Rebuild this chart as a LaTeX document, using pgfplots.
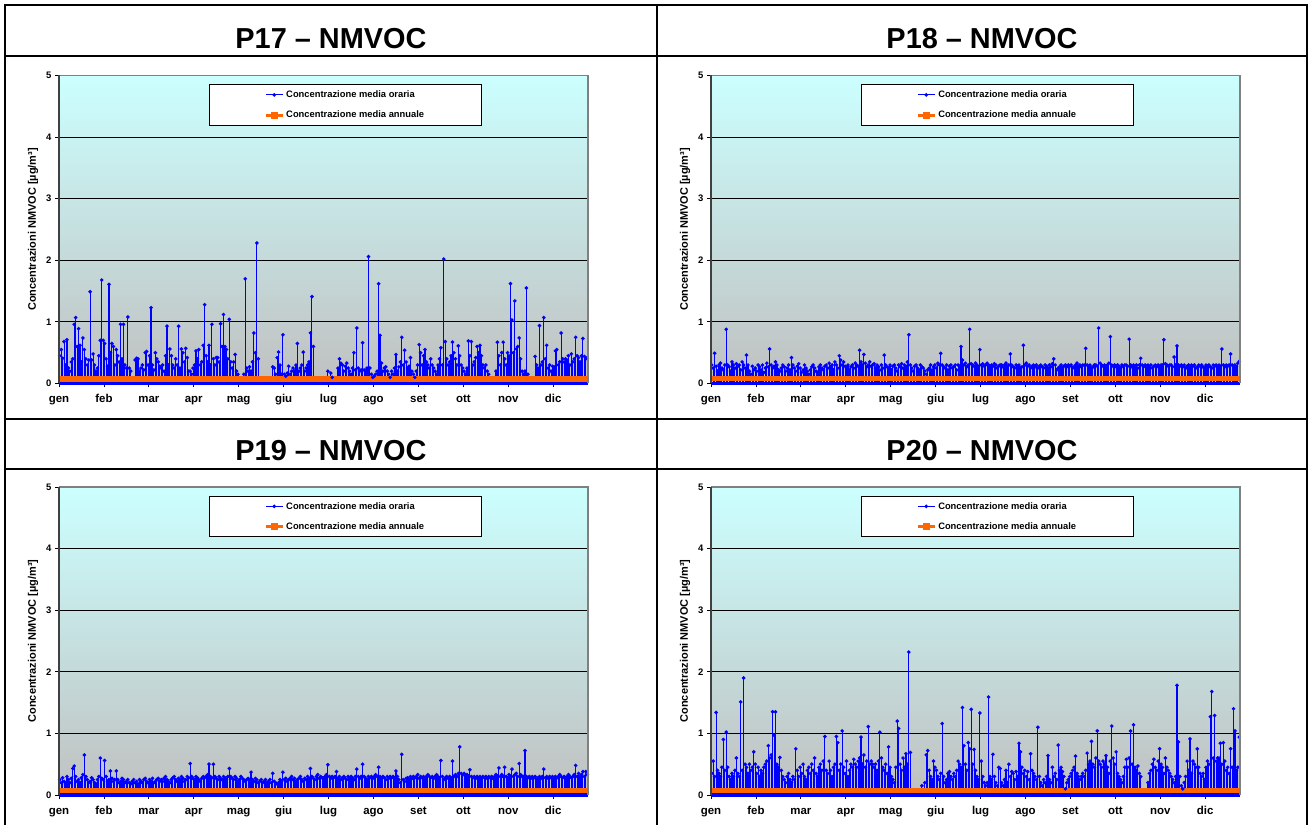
\documentclass[border=0pt]{standalone}
\usepackage{fontspec}
\setmainfont{Liberation Sans}
\usepackage{pgfplots}
\usepackage{pgfplotstable}
\pgfplotsset{compat=1.18}

\definecolor{serieblu}{RGB}{0,0,255}
\definecolor{arancio}{RGB}{255,102,0}
\definecolor{ciano}{RGB}{204,255,255}
\definecolor{grigio}{RGB}{192,192,192}
\definecolor{cornice}{RGB}{128,128,128}

% valori massimi giornalieri (giorni 0..364), nan = dato mancante
\pgfplotstableread[row sep=\\]{y\\
0.45\\0.55\\0.41\\0.68\\0.3\\0.71\\0.25\\0.2\\0.35\\0.4\\
0.96\\1.07\\0.6\\0.89\\0.62\\0.35\\0.74\\0.55\\0.4\\0.3\\
0.38\\1.49\\0.38\\0.48\\0.3\\0.2\\0.25\\0.45\\0.7\\1.68\\
0.7\\0.65\\0.4\\0.28\\1.61\\0.5\\0.65\\0.6\\0.3\\0.55\\
0.45\\0.35\\0.96\\0.4\\0.96\\0.3\\0.25\\1.08\\0.25\\0.2\\
nan\\nan\\0.38\\0.41\\0.4\\0.2\\0.25\\0.3\\0.22\\0.5\\
0.52\\0.3\\0.45\\1.23\\0.3\\0.22\\0.5\\0.4\\0.35\\0.28\\
0.25\\0.3\\0.2\\0.45\\0.93\\0.3\\0.56\\0.45\\0.3\\0.25\\
0.4\\0.3\\0.93\\0.25\\0.56\\0.5\\0.35\\0.57\\0.42\\0.2\\
0.2\\0.15\\0.25\\0.3\\0.53\\0.4\\0.55\\0.3\\0.35\\0.62\\
1.28\\0.45\\0.35\\0.62\\0.3\\0.96\\0.4\\0.3\\0.42\\0.42\\
0.35\\0.97\\0.6\\1.12\\0.6\\0.55\\0.4\\1.04\\0.35\\0.25\\
0.35\\0.47\\0.2\\0.15\\nan\\nan\\nan\\0.15\\1.70\\0.25\\
0.2\\0.27\\0.2\\0.35\\0.82\\0.5\\2.28\\0.4\\nan\\nan\\
nan\\nan\\nan\\nan\\nan\\nan\\nan\\0.27\\0.25\\0.15\\
0.42\\0.51\\0.3\\0.15\\0.79\\0.15\\0.12\\0.17\\0.28\\0.15\\
0.2\\0.25\\0.2\\0.3\\0.65\\0.2\\0.25\\0.3\\0.51\\0.2\\
0.25\\0.3\\0.35\\0.82\\1.41\\0.6\\nan\\nan\\nan\\nan\\
nan\\nan\\nan\\nan\\nan\\0.2\\nan\\0.17\\0.1\\nan\\
nan\\nan\\0.25\\0.4\\0.33\\0.3\\0.2\\0.28\\0.33\\0.25\\
0.2\\0.15\\0.25\\0.5\\0.22\\0.9\\0.25\\0.2\\0.22\\0.66\\
0.22\\0.2\\0.25\\2.06\\0.25\\0.15\\0.1\\0.12\\0.15\\0.2\\
1.62\\0.78\\0.33\\0.2\\0.25\\0.27\\0.2\\0.15\\0.1\\0.2\\
0.15\\0.25\\0.47\\0.2\\0.27\\0.35\\0.75\\0.3\\0.54\\0.35\\
0.25\\0.28\\0.42\\0.2\\0.15\\0.1\\0.2\\0.3\\0.63\\0.5\\
0.3\\0.45\\0.55\\0.35\\0.3\\0.25\\0.4\\0.3\\0.25\\0.2\\
0.15\\0.3\\0.4\\0.58\\0.3\\2.02\\0.68\\0.4\\0.3\\0.35\\
0.45\\0.67\\0.5\\0.4\\0.3\\0.61\\0.45\\0.3\\0.25\\0.2\\
0.15\\0.25\\0.69\\0.45\\0.68\\0.3\\0.35\\0.42\\0.6\\0.5\\
0.62\\0.45\\0.3\\0.25\\0.3\\0.2\\0.15\\nan\\nan\\nan\\
nan\\0.2\\0.67\\0.45\\0.3\\0.5\\0.67\\0.4\\0.3\\0.5\\
0.45\\1.62\\1.03\\0.5\\1.34\\0.56\\0.6\\0.74\\0.4\\0.2\\
0.15\\0.2\\1.55\\0.15\\nan\\nan\\nan\\nan\\0.44\\0.3\\
0.25\\0.94\\0.3\\0.35\\1.07\\0.4\\0.62\\0.25\\0.3\\0.2\\
0.28\\0.27\\0.53\\0.55\\0.3\\0.35\\0.82\\0.4\\0.35\\0.4\\
0.38\\0.45\\0.3\\0.48\\0.35\\0.4\\0.75\\0.45\\0.42\\0.35\\
0.45\\0.73\\0.44\\0.42\\0.4\\
}\datiPdiciassette

\pgfplotstableread[row sep=\\]{y\\
0.3\\0.25\\0.49\\0.28\\0.2\\0.3\\0.33\\0.25\\0.22\\0.3\\
0.88\\0.3\\0.27\\0.2\\0.35\\0.3\\0.25\\0.32\\0.28\\0.3\\
0.22\\0.35\\0.3\\0.25\\0.46\\0.3\\0.2\\0.15\\0.28\\0.22\\
0.25\\0.2\\0.3\\0.27\\0.22\\0.3\\0.18\\0.25\\0.33\\0.27\\
0.56\\0.3\\0.25\\0.28\\0.35\\0.3\\0.22\\0.2\\0.25\\0.3\\
0.27\\0.2\\0.25\\0.3\\0.22\\0.42\\0.3\\0.25\\0.2\\0.28\\
0.32\\0.25\\0.18\\0.22\\0.3\\0.25\\0.2\\0.15\\0.22\\0.27\\
0.3\\0.25\\0.2\\0.18\\0.27\\0.3\\0.25\\0.22\\0.28\\0.3\\
0.25\\0.33\\0.27\\0.3\\0.22\\0.35\\0.3\\0.25\\0.45\\0.38\\
0.3\\0.35\\0.28\\0.25\\0.3\\0.22\\0.27\\0.3\\0.25\\0.33\\
0.3\\0.28\\0.54\\0.35\\0.3\\0.47\\0.33\\0.27\\0.3\\0.35\\
0.28\\0.3\\0.32\\0.25\\0.3\\0.27\\0.22\\0.3\\0.25\\0.46\\
0.3\\0.27\\0.25\\0.3\\0.22\\0.28\\0.3\\0.25\\0.2\\0.3\\
0.27\\0.32\\0.25\\0.3\\0.28\\0.35\\0.79\\0.3\\0.25\\0.2\\
0.28\\0.3\\0.25\\0.22\\0.3\\0.27\\0.25\\0.2\\0.15\\0.22\\
0.25\\0.3\\0.22\\0.27\\0.3\\0.25\\0.33\\0.3\\0.49\\0.3\\
0.27\\0.25\\0.3\\0.22\\0.28\\0.3\\0.25\\0.27\\0.3\\0.22\\
0.3\\0.28\\0.6\\0.38\\0.3\\0.33\\0.27\\0.3\\0.88\\0.32\\
0.3\\0.28\\0.33\\0.3\\0.27\\0.55\\0.3\\0.32\\0.28\\0.3\\
0.33\\0.3\\0.27\\0.3\\0.28\\0.32\\0.3\\0.25\\0.28\\0.3\\
0.3\\0.27\\0.3\\0.33\\0.28\\0.3\\0.48\\0.3\\0.27\\0.25\\
0.3\\0.28\\0.3\\0.25\\0.27\\0.62\\0.3\\0.33\\0.28\\0.3\\
0.25\\0.28\\0.3\\0.27\\0.3\\0.25\\0.28\\0.3\\0.27\\0.25\\
0.3\\0.28\\0.25\\0.3\\0.27\\0.32\\0.4\\0.3\\0.22\\0.25\\
0.27\\0.3\\0.25\\0.28\\0.3\\0.27\\0.3\\0.28\\0.3\\0.25\\
0.27\\0.3\\0.33\\0.28\\0.3\\0.27\\0.3\\0.3\\0.57\\0.3\\
0.28\\0.3\\0.25\\0.27\\0.3\\0.3\\0.28\\0.9\\0.33\\0.3\\
0.28\\0.3\\0.27\\0.3\\0.33\\0.76\\0.3\\0.28\\0.3\\0.27\\
0.3\\0.28\\0.25\\0.3\\0.27\\0.3\\0.3\\0.28\\0.72\\0.3\\
0.27\\0.3\\0.28\\0.3\\0.25\\0.3\\0.41\\0.3\\0.27\\0.3\\
0.28\\0.3\\0.27\\0.3\\0.25\\0.28\\0.3\\0.27\\0.3\\0.28\\
0.3\\0.3\\0.71\\0.32\\0.3\\0.28\\0.3\\0.3\\0.27\\0.43\\
0.3\\0.61\\0.3\\0.28\\0.3\\0.27\\0.3\\0.25\\0.28\\0.3\\
0.27\\0.3\\0.28\\0.3\\0.25\\0.27\\0.3\\0.28\\0.3\\0.27\\
0.25\\0.3\\0.28\\0.3\\0.27\\0.25\\0.3\\0.28\\0.3\\0.27\\
0.3\\0.28\\0.56\\0.3\\0.27\\0.3\\0.28\\0.3\\0.48\\0.3\\
0.28\\0.3\\0.27\\0.33\\0.36\\
}\datiPdiciotto

\pgfplotstableread[row sep=\\]{y\\
0.25\\0.2\\0.28\\0.22\\0.18\\0.3\\0.25\\0.2\\0.27\\0.43\\
0.47\\0.3\\0.22\\0.25\\0.2\\0.28\\0.33\\0.65\\0.3\\0.25\\
0.2\\0.22\\0.28\\0.25\\0.2\\0.18\\0.25\\0.3\\0.6\\0.27\\
0.25\\0.56\\0.3\\0.22\\0.25\\0.39\\0.27\\0.22\\0.25\\0.39\\
0.25\\0.2\\0.22\\0.27\\0.25\\0.2\\0.22\\0.25\\0.2\\0.18\\
0.22\\0.25\\0.2\\0.22\\0.18\\0.25\\0.22\\0.2\\0.25\\0.27\\
0.22\\0.2\\0.25\\0.22\\0.27\\0.2\\0.22\\0.25\\0.27\\0.22\\
0.25\\0.22\\0.27\\0.3\\0.25\\0.22\\0.2\\0.25\\0.28\\0.3\\
0.25\\0.22\\0.27\\0.25\\0.3\\0.27\\0.22\\0.25\\0.3\\0.28\\
0.51\\0.3\\0.27\\0.25\\0.3\\0.28\\0.25\\0.22\\0.27\\0.3\\
0.28\\0.3\\0.33\\0.5\\0.3\\0.28\\0.5\\0.3\\0.27\\0.25\\
0.3\\0.27\\0.25\\0.3\\0.28\\0.25\\0.3\\0.43\\0.3\\0.27\\
0.25\\0.3\\0.27\\0.22\\0.25\\0.3\\0.27\\0.25\\0.22\\0.25\\
0.27\\0.25\\0.37\\0.25\\0.22\\0.27\\0.25\\0.2\\0.22\\0.25\\
0.2\\0.22\\0.25\\0.2\\0.22\\0.25\\0.2\\0.35\\0.22\\0.2\\
0.18\\0.2\\0.25\\0.22\\0.37\\0.25\\0.27\\0.22\\0.25\\0.27\\
0.3\\0.25\\0.27\\0.22\\0.25\\0.27\\0.3\\0.25\\0.22\\0.27\\
0.25\\0.3\\0.27\\0.43\\0.3\\0.27\\0.25\\0.3\\0.33\\0.27\\
0.3\\0.28\\0.27\\0.3\\0.33\\0.49\\0.3\\0.27\\0.3\\0.28\\
0.3\\0.38\\0.27\\0.3\\0.25\\0.28\\0.3\\0.27\\0.25\\0.3\\
0.27\\0.3\\0.28\\0.25\\0.3\\0.42\\0.3\\0.27\\0.3\\0.5\\
0.3\\0.27\\0.25\\0.3\\0.28\\0.3\\0.27\\0.3\\0.33\\0.3\\
0.45\\0.3\\0.27\\0.3\\0.28\\0.25\\0.3\\0.27\\0.3\\0.28\\
0.3\\0.27\\0.39\\0.3\\0.25\\0.2\\0.66\\0.25\\0.22\\0.27\\
0.28\\0.25\\0.3\\0.27\\0.3\\0.28\\0.3\\0.33\\0.27\\0.3\\
0.28\\0.3\\0.27\\0.3\\0.33\\0.3\\0.28\\0.3\\0.27\\0.3\\
0.33\\0.3\\0.28\\0.56\\0.3\\0.25\\0.28\\0.3\\0.27\\0.3\\
0.28\\0.55\\0.3\\0.33\\0.3\\0.35\\0.78\\0.35\\0.33\\0.35\\
0.3\\0.33\\0.3\\0.41\\0.3\\0.28\\0.3\\0.27\\0.3\\0.28\\
0.3\\0.27\\0.3\\0.28\\0.3\\0.27\\0.3\\0.28\\0.3\\0.27\\
0.3\\0.33\\0.3\\0.44\\0.3\\0.33\\0.3\\0.45\\0.3\\0.28\\
0.33\\0.3\\0.42\\0.3\\0.33\\0.35\\0.3\\0.51\\0.33\\0.3\\
0.3\\0.72\\0.3\\0.28\\0.3\\0.27\\0.3\\0.28\\0.3\\0.25\\
0.28\\0.3\\0.27\\0.3\\0.42\\0.28\\0.3\\0.27\\0.3\\0.28\\
0.3\\0.27\\0.3\\0.28\\0.3\\0.33\\0.3\\0.28\\0.3\\0.27\\
0.3\\0.33\\0.3\\0.28\\0.3\\0.33\\0.48\\0.3\\0.35\\0.3\\
0.33\\0.38\\0.3\\0.38\\0.33\\
}\datiPdiciannove

\pgfplotstableread[row sep=\\]{y\\
0.35\\0.55\\0.3\\1.34\\0.4\\0.35\\0.3\\0.45\\0.9\\0.4\\
1.02\\0.45\\0.3\\0.25\\0.35\\0.3\\0.4\\0.6\\0.35\\0.3\\
1.51\\0.4\\1.9\\0.5\\0.45\\0.35\\0.5\\0.4\\0.45\\0.7\\
0.5\\0.35\\0.45\\0.3\\0.4\\0.35\\0.45\\0.5\\0.55\\0.8\\
0.6\\0.65\\1.35\\0.97\\1.35\\0.5\\0.45\\0.61\\0.4\\0.3\\
0.25\\0.2\\0.3\\0.35\\0.25\\0.2\\0.3\\0.25\\0.75\\0.4\\
0.3\\0.45\\0.35\\0.5\\0.3\\0.25\\0.4\\0.45\\0.35\\0.5\\
0.4\\0.6\\0.35\\0.3\\0.45\\0.5\\0.4\\0.55\\0.95\\0.4\\
0.35\\0.55\\0.4\\0.3\\0.45\\0.5\\0.95\\0.85\\0.4\\0.5\\
1.04\\0.45\\0.35\\0.55\\0.3\\0.4\\0.5\\0.45\\0.58\\0.5\\
0.45\\0.55\\0.6\\0.94\\0.5\\0.65\\0.45\\0.55\\1.11\\0.5\\
0.55\\0.5\\0.45\\0.5\\0.4\\0.55\\1.02\\0.6\\0.45\\0.4\\
0.5\\0.35\\0.78\\0.45\\0.3\\0.25\\0.2\\0.45\\1.2\\1.08\\
0.5\\0.4\\0.6\\0.45\\0.67\\0.5\\2.32\\0.69\\nan\\nan\\
nan\\nan\\nan\\nan\\nan\\0.15\\nan\\0.2\\0.65\\0.72\\
0.4\\0.3\\0.25\\0.55\\0.45\\0.4\\0.3\\0.25\\0.35\\1.16\\
0.3\\0.2\\0.25\\0.35\\0.38\\0.3\\0.25\\0.35\\0.3\\0.4\\
0.55\\0.5\\0.45\\1.42\\0.8\\0.5\\0.4\\0.85\\0.75\\1.39\\
0.5\\0.74\\0.4\\0.3\\0.25\\1.33\\0.55\\0.3\\0.2\\0.15\\
0.2\\1.59\\0.3\\0.25\\0.66\\0.3\\0.2\\0.15\\0.45\\0.43\\
0.2\\0.15\\0.25\\0.4\\0.2\\0.5\\0.3\\0.38\\0.35\\0.25\\
0.38\\0.3\\0.84\\0.7\\0.45\\0.35\\0.4\\0.3\\0.38\\0.25\\
0.67\\0.4\\0.35\\0.3\\0.25\\1.1\\0.3\\0.2\\0.15\\0.25\\
0.2\\0.3\\0.64\\0.25\\0.2\\0.45\\0.3\\0.35\\0.25\\0.81\\
0.4\\0.45\\0.38\\0.3\\0.1\\0.2\\0.25\\0.3\\0.35\\0.4\\
0.45\\0.63\\0.35\\0.3\\0.25\\0.3\\0.35\\0.3\\0.4\\0.68\\
0.5\\0.55\\0.87\\0.5\\0.45\\0.6\\1.04\\0.55\\0.5\\0.45\\
0.55\\0.5\\0.64\\0.45\\0.35\\0.55\\1.12\\0.6\\0.5\\0.7\\
0.35\\0.3\\0.25\\0.2\\0.3\\0.45\\0.58\\0.45\\0.6\\1.04\\
0.5\\1.14\\0.45\\0.4\\0.47\\0.35\\0.3\\nan\\nan\\nan\\
nan\\0.2\\0.35\\0.4\\0.5\\0.58\\0.45\\0.4\\0.55\\0.75\\
0.5\\0.45\\0.35\\0.6\\0.45\\0.4\\0.35\\0.3\\0.25\\0.2\\
0.3\\1.78\\0.86\\0.3\\0.15\\0.1\\0.2\\0.3\\0.55\\0.4\\
0.91\\0.35\\0.55\\0.5\\0.45\\0.75\\0.45\\0.35\\0.3\\0.35\\
0.25\\0.45\\0.55\\0.5\\1.27\\1.68\\0.6\\1.29\\0.55\\0.6\\
0.6\\0.84\\0.5\\0.85\\0.55\\0.4\\0.45\\0.35\\0.75\\0.45\\
1.4\\1.04\\0.4\\0.45\\0.94\\
}\datiPventi

\pgfplotsset{
  pannello/.style={
    scale only axis, width=529bp, height=308bp, anchor=south west,
    xmin=0, xmax=365, ymin=0, ymax=5, clip=false,
    xtick={0,31,...,341},
    xticklabels={gen,feb,mar,apr,mag,giu,lug,ago,set,ott,nov,dic},
    ytick={0,1,2,3,4,5},
    xtick pos=bottom, ytick pos=left, tick align=outside,
    major tick length=4bp,
    tick style={black, line width=0.8bp},
    ymajorgrids, grid style={black, line width=0.8bp},
    axis line style={draw=none},
    axis background/.style={top color=ciano, bottom color=grigio},
    /pgf/number format/assume math mode=true,
    yticklabel style={font=\fontsize{9.5}{10}\selectfont\bfseries},
    xticklabel style={font=\fontsize{11.5}{12}\selectfont\bfseries,
      text height=8.5bp, text depth=2.5bp, yshift=-3bp},
    ylabel={Concentrazioni NMVOC [µg/m³]},
    ylabel style={font=\fontsize{11}{12}\selectfont\bfseries,
      at={(axis description cs:-0.049,0.5)}, anchor=center},
    legend style={at={(axis description cs:0.541,0.971)}, anchor=north,
      draw=black, fill=white, line width=0.8bp,
      font=\fontsize{9.4}{10}\selectfont\bfseries,
      inner xsep=55bp, inner ysep=4bp, row sep=8bp},
    legend cell align=left,
    after end axis/.code={
      \draw[cornice, line width=1.5bp] (rel axis cs:0,1) -- (rel axis cs:1,1) -- (rel axis cs:1,0);
      \draw[black!75, line width=1.5bp] (rel axis cs:0,0) -- (rel axis cs:0,1);
    },
  },
  orari/.style={ycomb, color=serieblu, line width=1.1bp, mark=*, mark size=1.2bp, forget plot},
  minimi/.style={color=serieblu, line width=3.5bp, forget plot},
  annuale/.style={color=arancio, line width=5.5bp, forget plot},
}

\newcommand{\legenda}{%
  \addlegendimage{serieblu, line width=1bp, mark=*, mark size=1.3bp}
  \addlegendentry{Concentrazione media oraria}
  \addlegendimage{arancio, line width=3bp, mark=square*, mark size=2bp}
  \addlegendentry{Concentrazione media annuale}
}

\begin{document}
\begin{tikzpicture}[x=1bp,y=1bp]
\path (0,0) rectangle (1310,825);

% griglia della tabella
\begin{scope}[line width=1.5bp, black]
  \draw (5,0) -- (5,820) -- (1307,820) -- (1307,0);
  \draw (657,0) -- (657,820);
  \draw (5,769) -- (1307,769);
  \draw (5,406) -- (1307,406);
  \draw (5,356) -- (1307,356);
\end{scope}

\node[anchor=base, font=\fontsize{29}{30}\selectfont\bfseries] at (331,776.5) {P17 – NMVOC};
\node[anchor=base, font=\fontsize{29}{30}\selectfont\bfseries] at (982,776.5) {P18 – NMVOC};
\node[anchor=base, font=\fontsize{29}{30}\selectfont\bfseries] at (331,364) {P19 – NMVOC};
\node[anchor=base, font=\fontsize{29}{30}\selectfont\bfseries] at (982,364) {P20 – NMVOC};

\begin{axis}[pannello, at={(59bp,441.5bp)}]
  \addplot[orari] table[x expr=\coordindex+0.5, y=y] {\datiPdiciassette};
  \addplot[minimi] coordinates {(0,0) (365,0)};
  \addplot[annuale] coordinates {(-1,0.07) (366,0.07)};
  \legenda
\end{axis}

\begin{axis}[pannello, at={(711bp,441.5bp)}]
  \addplot[orari] table[x expr=\coordindex+0.5, y=y] {\datiPdiciotto};
  \addplot[minimi] coordinates {(0,0) (365,0)};
  \addplot[annuale] coordinates {(-1,0.085) (366,0.085)};
  \legenda
\end{axis}

\begin{axis}[pannello, at={(59bp,30bp)}]
  \addplot[orari] table[x expr=\coordindex+0.5, y=y] {\datiPdiciannove};
  \addplot[minimi] coordinates {(0,0) (365,0)};
  \addplot[annuale] coordinates {(-1,0.07) (366,0.07)};
  \legenda
\end{axis}

\begin{axis}[pannello, at={(711bp,30bp)}]
  \addplot[orari] table[x expr=\coordindex+0.5, y=y] {\datiPventi};
  \addplot[minimi] coordinates {(0,0) (365,0)};
  \addplot[annuale] coordinates {(-1,0.075) (366,0.075)};
  \legenda
\end{axis}
\end{tikzpicture}
\end{document}
